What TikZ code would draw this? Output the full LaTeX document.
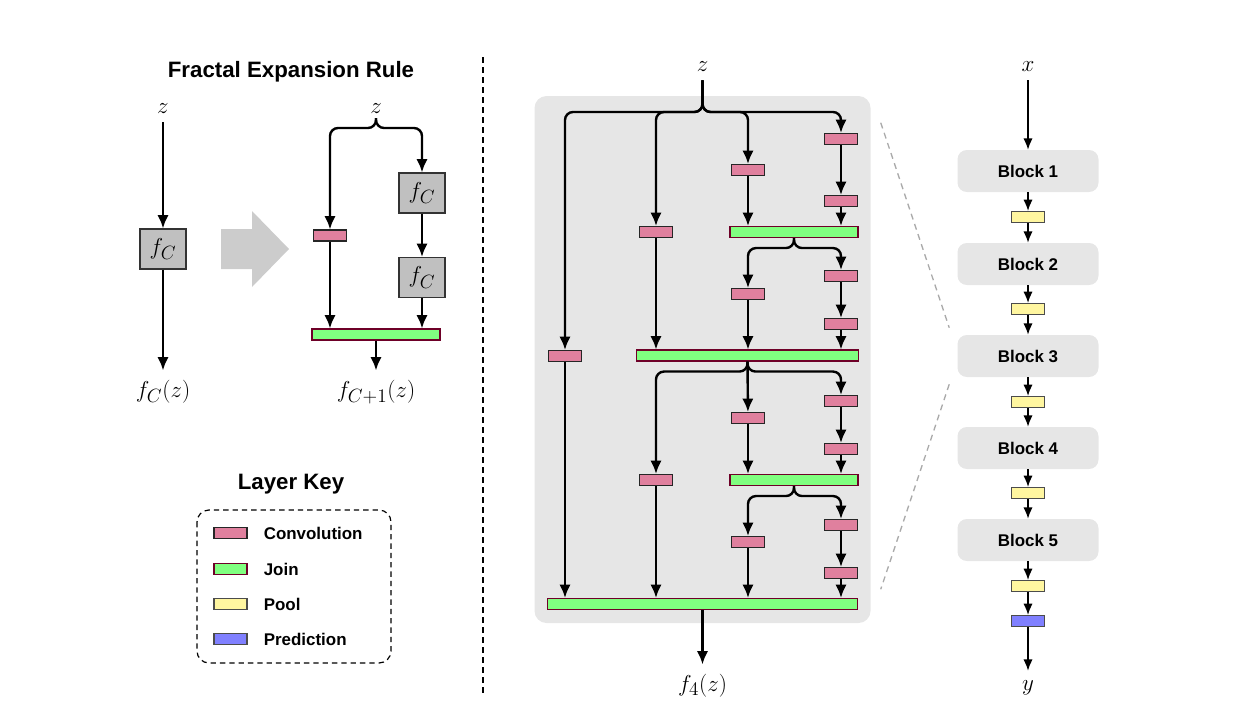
\documentclass[tikz,border=0pt]{standalone}
\usepackage[no-math]{fontspec}
\usepackage{amsmath}
\usepackage{xcolor}
\newfontfamily\arial{Liberation Sans}
\usetikzlibrary{arrows.meta,positioning,calc}

\definecolor{convpink}{RGB}{224,128,158}
\definecolor{joingreen}{RGB}{128,255,128}
\definecolor{joinrim}{RGB}{110,0,40}
\definecolor{poolyellow}{RGB}{255,246,160}
\definecolor{predblue}{RGB}{128,128,255}
\definecolor{bggray}{RGB}{230,230,230}
\definecolor{fcgray}{RGB}{192,192,192}
\definecolor{bigarrow}{RGB}{204,204,204}
\definecolor{zoomgray}{RGB}{170,170,170}

\tikzset{
  flow/.style={-{Latex[length=10pt,width=8.5pt]},line width=1.8pt},
  slim/.style={-{Latex[length=8.5pt,width=7pt]},line width=1.2pt},
  brace/.style={flow,rounded corners=6pt},
  var/.style={inner sep=0pt,outer sep=7pt,font=\fontsize{19}{22}\selectfont},
  layer/.style={line width=0.8pt,minimum height=8.25pt,inner sep=0pt},
  conv/.style={layer,draw=black!85,fill=convpink,minimum width=24.75pt},
  joinbar/.style={layer,draw=joinrim,fill=joingreen},
  pool/.style={layer,draw=black!70,fill=poolyellow,minimum width=24.75pt},
  pred/.style={layer,draw=black!70,fill=predblue,minimum width=24.75pt},
  fbox/.style={draw=black!80,line width=0.8pt,fill=fcgray,minimum width=34.5pt,
    minimum height=30pt,inner sep=0pt,font=\fontsize{19}{22}\selectfont},
  block/.style={fill=bggray,rounded corners=7pt,minimum width=105.75pt,
    minimum height=31.5pt,font=\arial\bfseries\fontsize{12.7}{15}\selectfont},
  keytext/.style={inner sep=0pt,font=\arial\bfseries\fontsize{12.7}{15}\selectfont},
  heading/.style={inner sep=0pt,font=\arial\bfseries\fontsize{16.7}{20}\selectfont}
}

\begin{document}
\begin{tikzpicture}[x=0.75pt,y=-0.75pt]
\useasboundingbox (0,0) rectangle (1243,718);

% expansion rule
\node[heading,anchor=base] (ttlrule) at (291,77) {Fractal Expansion Rule};
\node[var,anchor=base] (zl) at (163,113) {$z$};
\node[fbox] (fl) at (163,249) {$f_C$};
\node[var,anchor=base] (fcz) at (163,397) {$f_C(z)$};
\draw[flow] (zl) -- (fl);
\draw[flow] (fl) -- (fcz);

\fill[bigarrow] (221,229) -- (252,229) -- (252,211) -- (289,249) -- (252,287) -- (252,269) -- (221,269) -- cycle;

\node[var,anchor=base] (zr) at (376,113) {$z$};
\coordinate (rsplit) at (376,118);
\node[conv] (rconv) at (330,235.5) {};
\node[fbox] (rf1) at (422,193) {$f_C$};
\node[fbox] (rf2) at (422,277.5) {$f_C$};
\node[joinbar,minimum width=96pt] (rjoin) at (376,334.5) {};
\node[var,anchor=base] (fc1z) at (376,397) {$f_{C+1}(z)$};
\draw[brace] (rsplit) -- ++(0,10) -| (rconv);
\draw[brace] (rsplit) -- ++(0,10) -| (rf1);
\draw[flow] (rf1) -- (rf2);
\draw[flow] (rconv) -- (rconv |- rjoin.north);
\draw[flow] (rf2) -- (rf2 |- rjoin.north);
\draw[flow] (rjoin) -- (fc1z);

\draw[line width=1pt,dash pattern=on 4.5pt off 3pt] (483,57) -- (483,693);

% layer key
\node[heading,anchor=base] (ttlkey) at (291,489) {Layer Key};
\draw[line width=0.9pt,dash pattern=on 4pt off 3pt,rounded corners=9pt] (197,510) rectangle (391,663);
\node[conv] (kconv) at (230.5,533) {};
\node[joinbar,minimum width=24.75pt] (kjoin) at (230.5,569) {};
\node[pool] (kpool) at (230.5,604) {};
\node[pred] (kpred) at (230.5,639) {};
\node[keytext,right=12pt of kconv] (tconv) {Convolution};
\node[keytext,right=12pt of kjoin] (tjoin) {Join};
\node[keytext,right=12pt of kpool] (tpool) {Pool};
\node[keytext,right=12pt of kpred] (tpred) {Prediction};

% fractal block
\node[fill=bggray,rounded corners=9pt,minimum width=252pt,minimum height=395.25pt] (frac) at (702.5,359.5) {};
\node[var,anchor=base] (zm) at (702.5,71) {$z$};
\coordinate (bar0) at (702.5,112);

\node[conv] (c1a) at (565,356) {};
\node[conv] (c2a) at (656,232) {};
\node[conv] (c2b) at (656,480) {};
\node[conv] (c3a) at (748,170) {};
\node[conv] (c3b) at (748,294) {};
\node[conv] (c3c) at (748,418) {};
\node[conv] (c3d) at (748,542) {};
\node[conv] (c4a) at (841,139) {};
\node[conv] (c4b) at (841,201) {};
\node[conv] (c4c) at (841,276) {};
\node[conv] (c4d) at (841,324) {};
\node[conv] (c4e) at (841,401) {};
\node[conv] (c4f) at (841,449) {};
\node[conv] (c4g) at (841,525) {};
\node[conv] (c4h) at (841,573) {};
\node[joinbar,minimum width=96pt] (j1) at (794,232) {};
\node[joinbar,minimum width=166pt] (j2) at (747.5,355.5) {};
\node[joinbar,minimum width=96pt] (j3) at (794,480) {};
\node[joinbar,minimum width=232.5pt] (jf) at (702.5,604) {};
\node[var,anchor=base] (f4z) at (702.5,691) {$f_4(z)$};

\draw[brace] (zm) -- (bar0) -| (c1a);
\draw[brace] (zm) -- (bar0) -| (c2a);
\draw[brace] (zm) -- (bar0) -| (c3a);
\draw[brace] (zm) -- (bar0) -| (c4a);
\draw[flow] (c4a) -- (c4b);
\draw[flow] (c3a) -- (c3a |- j1.north);
\draw[flow] (c4b) -- (c4b |- j1.north);

\draw[brace] (j1.south) -- ++(0,10) -| (c3b);
\draw[brace] (j1.south) -- ++(0,10) -| (c4c);
\draw[flow] (c4c) -- (c4d);
\draw[flow] (c2a) -- (c2a |- j2.north);
\draw[flow] (c3b) -- (c3b |- j2.north);
\draw[flow] (c4d) -- (c4d |- j2.north);

\draw[brace] (j2.south) -- ++(0,10) -| (c2b);
\draw[flow] (j2.south) -- (c3c);
\draw[brace] (j2.south) -- ++(0,10) -| (c4e);
\draw[flow] (c4e) -- (c4f);
\draw[flow] (c3c) -- (c3c |- j3.north);
\draw[flow] (c4f) -- (c4f |- j3.north);

\draw[brace] (j3.south) -- ++(0,10) -| (c3d);
\draw[brace] (j3.south) -- ++(0,10) -| (c4g);
\draw[flow] (c4g) -- (c4h);
\draw[flow] (c1a) -- (c1a |- jf.north);
\draw[flow] (c2b) -- (c2b |- jf.north);
\draw[flow] (c3d) -- (c3d |- jf.north);
\draw[flow] (c4h) -- (c4h |- jf.north);
\draw[flow] (jf) -- (f4z);

% network
\node[var,anchor=base] (x) at (1028,71) {$x$};
\node[block] (b1) at (1028,171) {Block 1};
\node[pool] (p1) at (1028,217) {};
\node[block] (b2) at (1028,264) {Block 2};
\node[pool] (p2) at (1028,309) {};
\node[block] (b3) at (1028,356) {Block 3};
\node[pool] (p3) at (1028,402) {};
\node[block] (b4) at (1028,448) {Block 4};
\node[pool] (p4) at (1028,493) {};
\node[block] (b5) at (1028,540) {Block 5};
\node[pool] (p5) at (1028,586) {};
\node[pred] (pr) at (1028,621) {};
\node[var,anchor=base] (y) at (1028,690) {$y$};
\draw[slim] (x) -- (b1);
\draw[slim] (b1) -- (p1);
\draw[slim] (p1) -- (b2);
\draw[slim] (b2) -- (p2);
\draw[slim] (p2) -- (b3);
\draw[slim] (b3) -- (p3);
\draw[slim] (p3) -- (b4);
\draw[slim] (b4) -- (p4);
\draw[slim] (p4) -- (b5);
\draw[slim] (b5) -- (p5);
\draw[slim] (p5) -- (pr);
\draw[slim] (pr) -- (y);

\draw[zoomgray,line width=1pt,dash pattern=on 4.5pt off 3.5pt] ($(frac.north east)+(10,27)$) -- ($(b3.north west)+(-8,-7)$);
\draw[zoomgray,line width=1pt,dash pattern=on 4.5pt off 3.5pt] ($(b3.south west)+(-8,7)$) -- ($(frac.south east)+(10,-34)$);
\end{tikzpicture}
\end{document}
